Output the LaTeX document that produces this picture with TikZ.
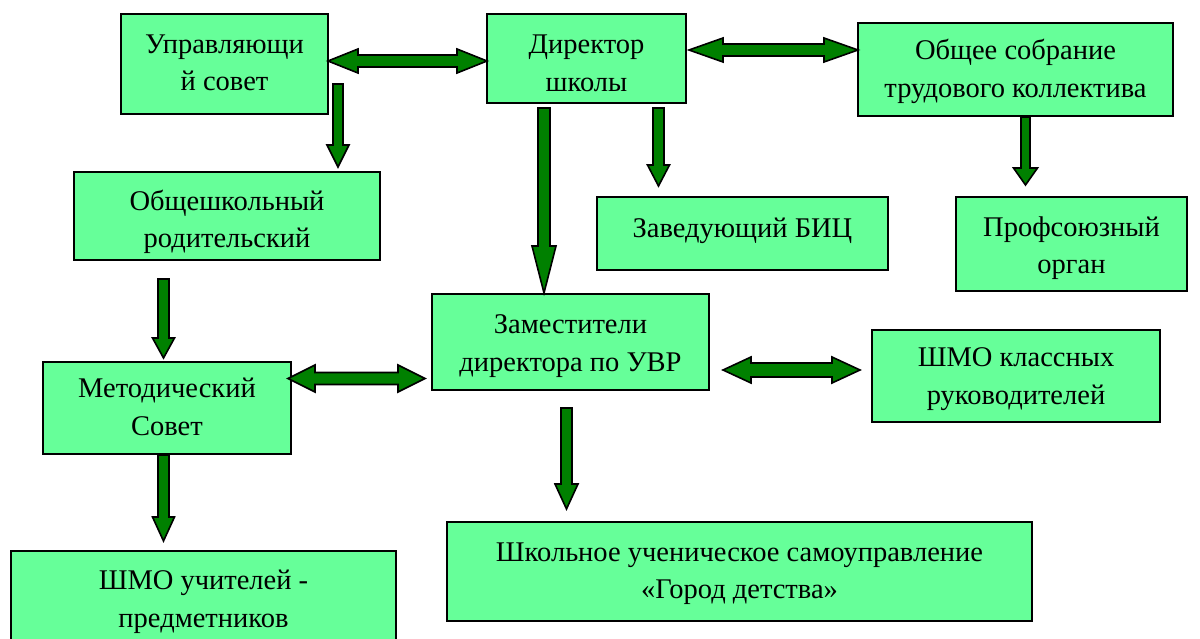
\documentclass[tikz,border=0pt]{standalone}
\usepackage{fontspec}
\setmainfont{Liberation Serif}
\usetikzlibrary{calc}
\definecolor{boxgreen}{HTML}{66FF99}
\definecolor{arrgreen}{HTML}{008000}
\tikzset{
  box/.style={draw=black, line width=1.8pt, fill=boxgreen, inner sep=0pt},
  txt/.style={align=center, inner sep=0pt, font=\fontsize{28.5}{37.5}\selectfont},
  blk/.style={draw=black, line width=1.6pt, fill=arrgreen, line join=miter}
}
% vertical block arrow: #1 top, #2 tip, #3 half shaft, #4 half head, #5 head length
\newcommand\vblk[5]{\path[blk] let \p1=(#1), \p2=(#2) in
 (\x1-#3pt,\y1) -- (\x1+#3pt,\y1) -- (\x1+#3pt,\y2+#5pt) -- (\x1+#4pt,\y2+#5pt) -- (\x1,\y2)
 -- (\x1-#4pt,\y2+#5pt) -- (\x1-#3pt,\y2+#5pt) -- cycle;}
% horizontal double block arrow: #1 left tip, #2 right tip
\newcommand\hblk[5]{\path[blk] let \p1=(#1), \p2=(#2) in
 (\x1,\y1) -- (\x1+#5pt,\y1+#4pt) -- (\x1+#5pt,\y1+#3pt) -- (\x2-#5pt,\y1+#3pt) -- (\x2-#5pt,\y1+#4pt)
 -- (\x2,\y1) -- (\x2-#5pt,\y1-#4pt) -- (\x2-#5pt,\y1-#3pt) -- (\x1+#5pt,\y1-#3pt) -- (\x1+#5pt,\y1-#4pt) -- cycle;}
\begin{document}
\begin{tikzpicture}[x=1pt,y=-1pt]
\useasboundingbox (0,0) rectangle (1200,639);
\fill[white] (0,0) rectangle (1200,639);
\clip (0,0) rectangle (1200,639);
% boxes
\node[box, minimum width=207pt, minimum height=100pt] (uc) at (224.5,64) {};
\node[box, minimum width=199pt, minimum height=89pt] (dir) at (586.5,58.5) {};
\node[box, minimum width=315pt, minimum height=93pt] (obs) at (1015.5,69.5) {};
\node[box, minimum width=306pt, minimum height=88pt] (rod) at (227,216) {};
\node[box, minimum width=291pt, minimum height=73pt] (biz) at (742.5,233.5) {};
\node[box, minimum width=231pt, minimum height=94pt] (prof) at (1071.5,244) {};
\node[box, minimum width=277pt, minimum height=96pt] (zam) at (570.5,342) {};
\node[box, minimum width=288pt, minimum height=92pt] (shmok) at (1016,376) {};
\node[box, minimum width=248pt, minimum height=92pt] (met) at (167,408) {};
\node[box, minimum width=385pt, minimum height=94pt] (shmou) at (203.5,598) {};
\node[box, minimum width=585pt, minimum height=99pt] (shk) at (739.5,571.5) {};
% texts
\node[txt] (uct) at ($(uc)+(0,-1)$) {Управляющи\\й совет};
\node[txt] (dirt) at ($(dir)+(0,5)$) {Директор\\школы};
\node[txt] (obst) at ($(obs)+(0,2)$) {Общее собрание\\трудового коллектива};
\node[txt] (rodt) at ($(rod)+(0,6)$) {Общешкольный\\родительский};
\node[txt] (bizt) at ($(biz)+(0,-2.5)$) {Заведующий БИЦ};
\node[txt] (proft) at ($(prof)+(0,4)$) {Профсоюзный\\орган};
\node[txt] (zamt) at ($(zam)+(0,4)$) {Заместители\\директора по УВР};
\node[txt] (shmokt) at ($(shmok)+(0,3)$) {ШМО классных\\руководителей};
\node[txt] (mett) at ($(met)+(0,-1)$) {Методический\\Совет};
\node[txt] (shmout) at ($(shmou)+(0,4)$) {ШМО учителей -\\предметников};
\node[txt] (shkt) at ($(shk)+(0,2)$) {Школьное ученическое самоуправление\\«Город детства»};
% arrow end points
\coordinate (A1) at (328,61);   \coordinate (A2) at (487,61);
\coordinate (B1) at (689,50);   \coordinate (B2) at (858,50);
\coordinate (C1) at (338,84);   \coordinate (C2) at (338,167);
\coordinate (D1) at (544,108);  \coordinate (D2) at (544,293);
\coordinate (E1) at (658.5,108);\coordinate (E2) at (658.5,186);
\coordinate (F1) at (1025.5,117);\coordinate (F2) at (1025.5,185);
\coordinate (G1) at (163.5,279);\coordinate (G2) at (163.5,358);
\coordinate (H1) at (288,378.5); \coordinate (H2) at (425,378.5);
\coordinate (I1) at (723,370);  \coordinate (I2) at (860,370);
\coordinate (J1) at (566.5,408);\coordinate (J2) at (566.5,509);
\coordinate (K1) at (163.5,455);\coordinate (K2) at (163.5,541);
% arrows
\hblk{A1}{A2}{6}{12}{30}
\hblk{B1}{B2}{6}{12}{34}
\vblk{C1}{C2}{5}{11}{22}
\vblk{D1}{D2}{6}{12}{47}
\vblk{E1}{E2}{5.5}{11}{21}
\vblk{F1}{F2}{4.5}{12}{17}
\vblk{G1}{G2}{5.5}{11}{20}
\hblk{H1}{H2}{6}{13.5}{27}
\hblk{I1}{I2}{7}{13}{28}
\vblk{J1}{J2}{5.5}{11.5}{25}
\vblk{K1}{K2}{5.5}{11}{24}
\end{tikzpicture}
\end{document}
